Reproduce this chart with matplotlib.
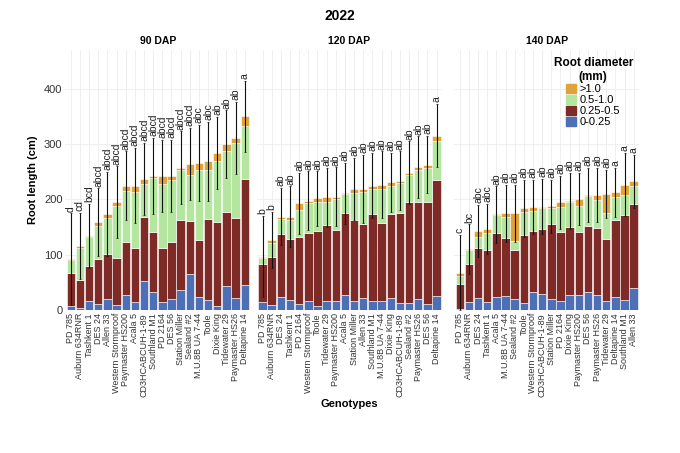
import numpy as np
import matplotlib.pyplot as plt
from matplotlib.patches import Patch

# ---- 90 DAP ----
g90 = ['PD 785', 'Auburn 634RNR', 'Tashkent 1', 'DES 24', 'Allen 33', 'Western Stormproof',
       'Paymaster HS200', 'Acala 5', 'CD3HCABCUH-1-89', 'Southland M1', 'PD 2164', 'DES 56',
       'Station Miller', 'Sealand #2', 'M.U.8B UA 7-44', 'Toole', 'Dixie King', 'Tidewater 29',
       'Paymaster HS26', 'Deltapine 14']
c90 = [68, 54, 80, 92, 101, 94, 123, 113, 168, 141, 112, 123, 163, 161, 126, 164, 159, 178, 166, 237]  # cumulative top of red
b90 = [8, 4, 16, 12, 20, 9, 27, 15, 52, 33, 15, 21, 37, 66, 24, 18, 8, 43, 23, 45]
gr90 = [91, 112, 133, 152, 167, 189, 216, 214, 228, 239, 228, 236, 254, 245, 253, 254, 269, 288, 301, 333]
tot90 = [92, 116, 134, 159, 174, 195, 225, 225, 237, 242, 243, 243, 257, 264, 266, 269, 284, 300, 311, 350]
et90 = [175, 176, 192, 220, 250, 260, 287, 293, 302, 311, 308, 308, 323, 329, 335, 340, 349, 361, 376, 414]
l90 = ['d', 'cd', 'bcd'] + ['abcd'] * 11 + ['abc', 'abc', 'ab', 'ab', 'ab', 'a']

# ---- 120 DAP ----
g120 = ['PD 785', 'Auburn 634RNR', 'DES 24', 'Tashkent 1', 'PD 2164', 'Western Stormproof', 'Toole',
        'Tidewater 29', 'Paymaster HS200', 'Acala 5', 'Station Miller', 'Allen 33', 'Southland M1',
        'M.U.8B UA 7-44', 'Dixie King', 'CD3HCABCUH-1-89', 'Sealand #2', 'Paymaster HS26', 'DES 56',
        'Deltapine 14']
b120 = [15, 9, 24, 18, 12, 17, 8, 16, 16, 27, 16, 22, 16, 16, 22, 14, 14, 21, 12, 26]
c120 = [83, 97, 137, 129, 132, 140, 143, 154, 144, 175, 163, 155, 173, 157, 173, 176, 195, 195, 195, 236]
gr120 = [94, 122, 165, 163, 181, 193, 195, 196, 201, 210, 211, 213, 219, 218, 225, 230, 245, 253, 257, 305]
tot120 = [97, 127, 169, 169, 193, 198, 202, 204, 205, 211, 219, 219, 225, 227, 231, 234, 248, 258, 263, 315]
et120 = [170, 178, 221, 224, 248, 251, 251, 257, 258, 266, 275, 281, 284, 287, 284, 287, 305, 314, 315, 372]
l120 = ['b', 'b'] + ['ab'] * 17 + ['a']

# ---- 140 DAP ----
g140 = ['PD 785', 'Auburn 634RNR', 'DES 24', 'Tashkent 1', 'Acala 5', 'M.U.8B UA 7-44', 'Sealand #2',
        'Toole', 'Western Stormproof', 'CD3HCABCUH-1-89', 'Station Miller', 'PD 2164', 'Dixie King',
        'Paymaster HS200', 'DES 56', 'Paymaster HS26', 'Tidewater 29', 'Deltapine 14', 'Southland M1',
        'Allen 33']
b140 = [3, 15, 22, 15, 24, 26, 21, 13, 33, 29, 21, 16, 27, 27, 33, 27, 17, 24, 19, 40]
c140 = [48, 83, 112, 109, 139, 131, 109, 136, 143, 146, 155, 142, 151, 142, 152, 148, 129, 163, 172, 192]
gr140 = [62, 108, 133, 139, 172, 169, 125, 177, 180, 184, 184, 187, 195, 189, 207, 199, 175, 205, 208, 225]
tot140 = [68, 110, 143, 147, 173, 175, 175, 184, 187, 187, 188, 195, 197, 201, 208, 208, 210, 213, 227, 233]
et140 = [136, 155, 190, 192, 224, 227, 227, 236, 236, 237, 236, 243, 248, 248, 257, 257, 254, 257, 284, 281]
l140 = ['c', 'bc', 'abc', 'abc'] + ['ab'] * 13 + ['a', 'a', 'a']

cols = ['#4c6fb5', '#7e2a26', '#b4e6a0', '#dfa33a']
plt.rcParams['font.family'] = ['Liberation Sans', 'DejaVu Sans']

fig = plt.figure(figsize=(6.8, 4.53), dpi=100)
fig.text(0.5, 0.955, '2022', ha='center', fontsize=10, fontweight='bold')
panels = [('90 DAP', g90, b90, c90, gr90, tot90, et90, l90),
          ('120 DAP', g120, b120, c120, gr120, tot120, et120, l120),
          ('140 DAP', g140, b140, c140, gr140, tot140, et140, l140)]
lefts = [0.096, 0.378, 0.668]
for i, (title, g, b, c, gr, tot, et, lab) in enumerate(panels):
    ax = fig.add_axes([lefts[i], 0.315, 0.272, 0.575])
    x = np.arange(len(g))
    b, c, gr, tot, et = map(np.array, (b, c, gr, tot, et))
    kw = dict(width=0.92, edgecolor='white', linewidth=0.4, zorder=2)
    ax.bar(x, b, color=cols[0], **kw)
    ax.bar(x, c - b, bottom=b, color=cols[1], **kw)
    ax.bar(x, gr - c, bottom=c, color=cols[2], **kw)
    ax.bar(x, tot - gr, bottom=gr, color=cols[3], **kw)
    err = et - tot
    ax.errorbar(x, tot, yerr=err, fmt='none', ecolor='#111111', elinewidth=0.8, capsize=1, capthick=0.5, zorder=3)
    for xi, top, s in zip(x, et, lab):
        ax.text(xi, top + 3, s, rotation=90, ha='center', va='bottom', fontsize=7.5, color='#222222')
    ax.set_xlim(-0.6, len(g) - 0.4)
    ax.set_ylim(0, 470)
    ax.set_yticks([0, 100, 200, 300, 400])
    ax.set_xticks(x)
    ax.set_xticklabels(g, rotation=90, fontsize=6.5, color='#333333')
    ax.set_title(title, fontsize=7.5, fontweight='bold', pad=4)
    ax.grid(True, color='#ececec', linewidth=0.6, zorder=0)
    for s in ax.spines.values():
        s.set_visible(False)
    ax.tick_params(length=0, pad=2)
    if i == 0:
        ax.tick_params(axis='y', labelsize=8, labelcolor='#333333')
        ax.set_ylabel('Root length (cm)', fontsize=8, fontweight='bold')
    else:
        ax.set_yticklabels([])
    if i == 1:
        ax.set_xlabel('Genotypes', fontsize=8, fontweight='bold', labelpad=2)
    if i == 2:
        handles = [Patch(color=cols[3]), Patch(color=cols[2]), Patch(color=cols[1]), Patch(color=cols[0])]
        leg = ax.legend(handles, ['>1.0', '0.5-1.0', '0.25-0.5', '0-0.25'], title='Root diameter\n(mm)',
                        loc='upper right', bbox_to_anchor=(1.02, 1.01), frameon=False, fontsize=8,
                        handlelength=0.9, handleheight=0.9, handletextpad=0.3, labelspacing=0.05)
        leg.get_title().set_fontweight('bold')
        leg.get_title().set_fontsize(8.5)
        leg.get_title().set_multialignment('center')

fig.savefig('out.png', dpi=100)
